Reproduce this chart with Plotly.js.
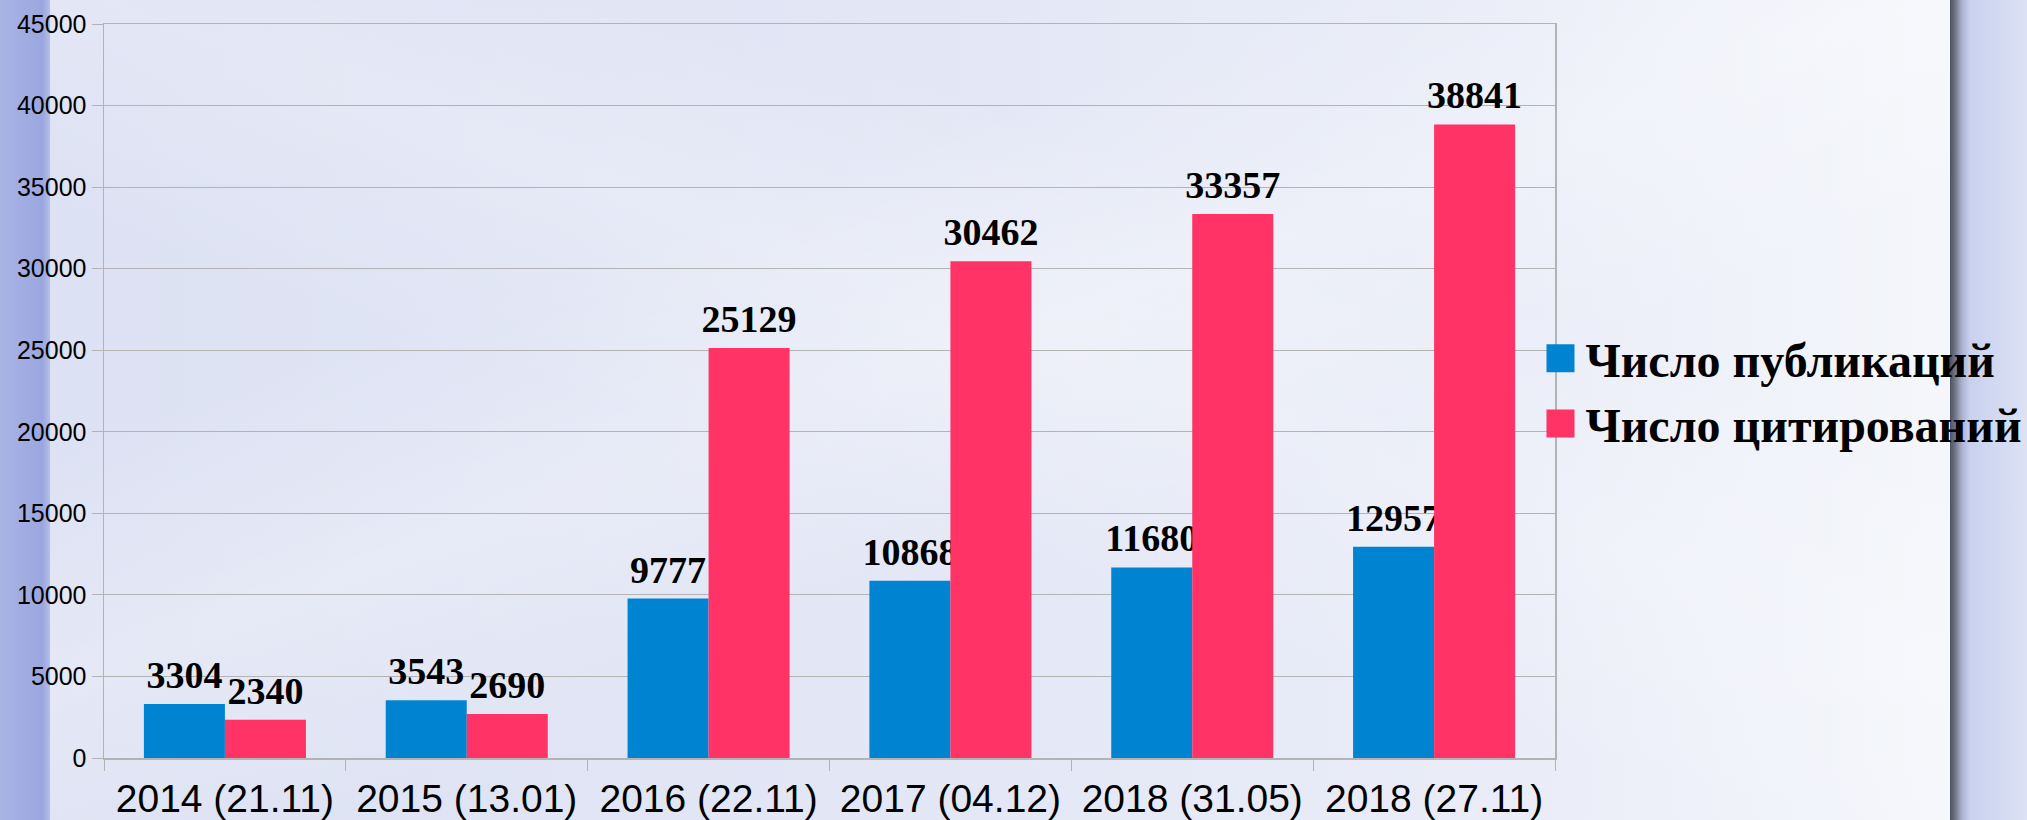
<!DOCTYPE html>
<html>
<head>
<meta charset="utf-8">
<script src="https://cdn.plot.ly/plotly-3.0.1.min.js"></script>
<style>
  html, body { margin: 0; padding: 0; }
  body { width: 2027px; height: 820px; overflow: hidden; position: relative;
         background: linear-gradient(to right, #dce1f3 0%, #e2e6f5 40%, #eaedf8 75%, #f4f6fb 95%); }
  #swoosh { position: absolute; left: 0; top: 0; width: 2027px; height: 820px;
         background:
           linear-gradient(160deg, rgba(255,255,255,0) 30%, rgba(255,255,255,0.25) 45%, rgba(255,255,255,0) 60%),
           linear-gradient(20deg, rgba(255,255,255,0) 40%, rgba(255,255,255,0.2) 55%, rgba(255,255,255,0) 70%); }
  #leftstrip { position: absolute; left: 0; top: 0; width: 50px; height: 820px;
         background: linear-gradient(to right, #a9b4e4 0%, #9aa7df 85%, #b5bfe8 100%); }
  #rightstrip { position: absolute; left: 1950px; top: 0; width: 77px; height: 820px;
         background: linear-gradient(to right, #4d5260 0px, #6f7486 5px, #aab2cf 12px, #c9d1ee 20px, #d6ddf3 60px, #dde3f4 77px); }
  #chart { position: absolute; left: 0; top: 0; width: 2027px; height: 820px; }
</style>
</head>
<body>
<div id="swoosh"></div>
<div id="leftstrip"></div>
<div id="rightstrip"></div>
<div id="chart"></div>
<script>
const categories = ["2014 (21.11)", "2015 (13.01)", "2016 (22.11)", "2017 (04.12)", "2018 (31.05)", "2018 (27.11)"];
const publications = [3304, 3543, 9777, 10868, 11680, 12957];
const citations = [2340, 2690, 25129, 30462, 33357, 38841];
const seriesNames = ["Число публикаций", "Число цитирований"];
const yTicks = [0, 5000, 10000, 15000, 20000, 25000, 30000, 35000, 40000, 45000];

const labelFont = {family: "Liberation Serif, Times New Roman, serif", size: 38, color: "#000000", weight: 700};

const traces = [
  {type: "bar", name: seriesNames[0], x: categories, y: publications,
   marker: {color: "#0084d1"}, text: publications.map(String), textposition: "outside",
   textfont: labelFont, constraintext: "none", cliponaxis: false, hoverinfo: "x+y"},
  {type: "bar", name: seriesNames[1], x: categories, y: citations,
   marker: {color: "#ff3366"}, text: citations.map(String), textposition: "outside",
   textfont: labelFont, constraintext: "none", cliponaxis: false, hoverinfo: "x+y"}
];

const layout = {
  width: 2027, height: 820,
  margin: {l: 104, r: 472, t: 24, b: 62, autoexpand: false},
  paper_bgcolor: "rgba(0,0,0,0)", plot_bgcolor: "rgba(0,0,0,0)",
  barmode: "group", bargap: 0.33, bargroupgap: 0,
  font: {family: "Liberation Sans, Arial, sans-serif", color: "#000000"},
  xaxis: {
    type: "category", tickson: "boundaries", ticks: "outside", ticklen: 11, tickcolor: "#b3b3b3",
    showline: true, linecolor: "#b3b3b3", linewidth: 1.5, mirror: true,
    showgrid: false, tickfont: {size: 39, family: "Liberation Sans, Arial, sans-serif", color: "#000"},
    ticklabelstandoff: 6
  },
  yaxis: {
    range: [0, 45000], tickvals: yTicks, ticktext: yTicks.map(String),
    ticks: "outside", ticklen: 11, tickcolor: "#b3b3b3",
    showline: true, linecolor: "#b3b3b3", linewidth: 1.5, mirror: true,
    showgrid: true, gridcolor: "#b3b3b3", gridwidth: 1.2, zeroline: false,
    tickfont: {size: 25, family: "Liberation Sans, Arial, sans-serif", color: "#000"}
  },
  showlegend: true,
  legend: {
    x: 0.99, xanchor: "left", y: 0.5, yanchor: "middle",
    bgcolor: "rgba(0,0,0,0)", borderwidth: 0,
    font: {family: "Liberation Serif, Times New Roman, serif", size: 48, color: "#000", weight: 700},
    itemwidth: 30, tracegroupgap: 0
  }
};

function touchUp() {
  document.querySelectorAll("#chart .legendpoints path").forEach(function (p) {
    p.setAttribute("d", "M14,14H-14V-14H14Z");
    p.style.strokeWidth = "0px";
  });
  document.querySelectorAll("#chart .legendtext").forEach(function (t) {
    const tr = t.getAttribute("transform") || "";
    t.setAttribute("transform", "translate(5,0) " + tr);
  });
  document.querySelectorAll("#chart .bars .bartext, #chart .bars text").forEach(function (t) {
    const tr = t.getAttribute("transform") || "";
    t.setAttribute("transform", "translate(0,-5) " + tr);
  });
}

Plotly.newPlot("chart", traces, layout, {displayModeBar: false, staticPlot: true}).then(touchUp);
</script>
</body>
</html>
